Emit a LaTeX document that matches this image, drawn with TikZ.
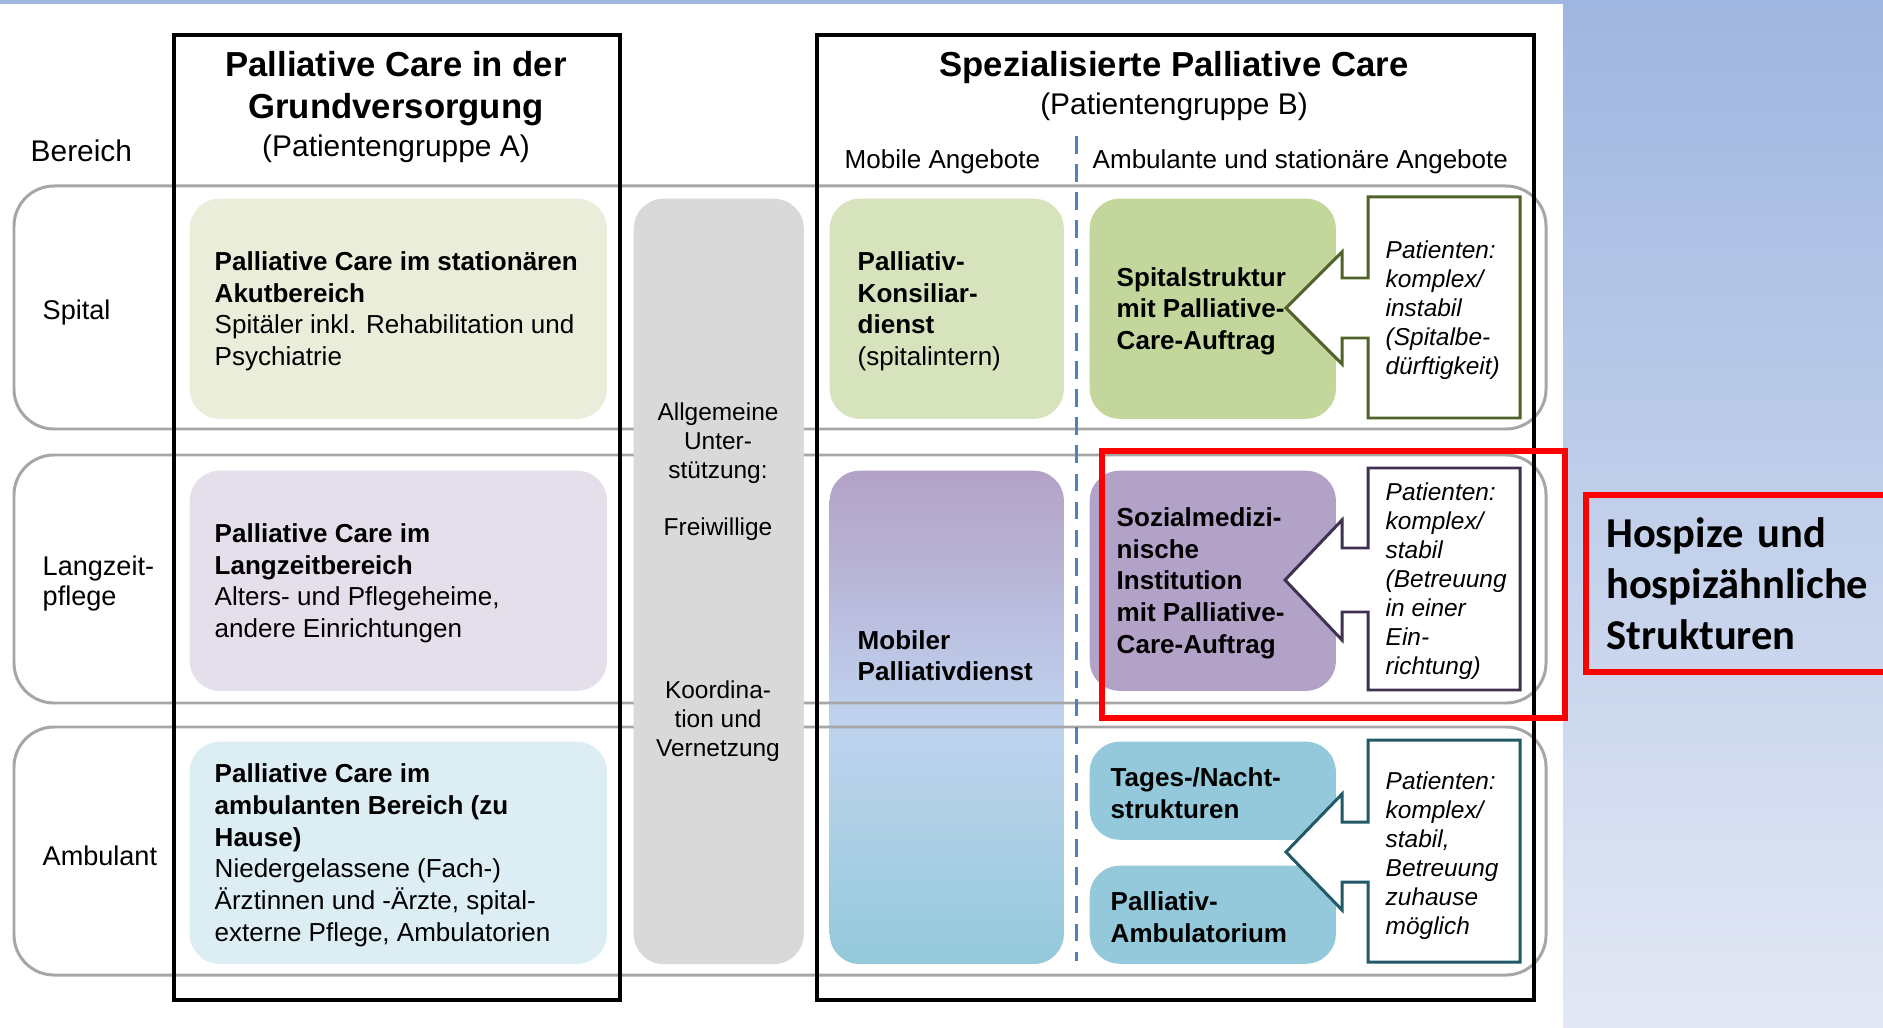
\documentclass[tikz,border=0pt]{standalone}
\usepackage{fontspec}
\setmainfont{Liberation Sans}
\newfontfamily\calibri{Carlito}

\definecolor{spitalpale}{HTML}{E9EDDA}
\definecolor{langpale}{HTML}{E4DFEA}
\definecolor{ambpale}{HTML}{DCEDF3}
\definecolor{supgray}{HTML}{D9D9D9}
\definecolor{konsilgreen}{HTML}{D7E3BC}
\definecolor{spitalgreen}{HTML}{C3D69B}
\definecolor{sozpurple}{HTML}{B3A2C7}
\definecolor{ambteal}{HTML}{93C9DA}
\definecolor{moblav}{HTML}{BCC3E3}
\definecolor{mobmid}{HTML}{BED2EE}
\definecolor{moblow}{HTML}{B4D1E8}
\definecolor{spitaldark}{HTML}{4F6228}
\definecolor{langdark}{HTML}{3F3151}
\definecolor{ambdark}{HTML}{215968}
\definecolor{dashblue}{HTML}{4F81BD}
\definecolor{bandgray}{HTML}{A6A6A6}
\definecolor{paneltop}{HTML}{9FB6E0}
\definecolor{panelbot}{HTML}{E3E8F4}

% purple at the top, teal at the bottom
\pgfdeclareverticalshading{mobshade}{100bp}{color(0bp)=(ambteal); color(25bp)=(ambteal);
  color(42.5bp)=(moblow); color(50bp)=(mobmid); color(57.5bp)=(moblav);
  color(75bp)=(sozpurple); color(100bp)=(sozpurple)}

\newcommand\hdsize{\fontsize{9.87pt}{11.95pt}\selectfont}
\newcommand\subsize{\fontsize{8.5pt}{10pt}\selectfont}
\newcommand\bodysize{\fontsize{7.4pt}{9pt}\selectfont}
\newcommand\rowsize{\fontsize{7.7pt}{8.5pt}\selectfont}
\newcommand\smallsize{\fontsize{6.95pt}{8.25pt}\selectfont}

\begin{document}
\begin{tikzpicture}[x=0.01cm, y=-0.01cm,
  band/.style={draw=bandgray, line width=0.85pt, rounded corners=0.4cm},
  column/.style={draw=black, line width=1pt},
  cell/.style={anchor=north west, rounded corners=0.3cm, inner sep=0pt},
  txt/.style={anchor=west, align=left, inner sep=0pt, font=\bodysize, yshift=-0.025cm},
  head/.style={align=center, inner sep=0pt, yshift=-0.04cm},
  note/.style={anchor=west, align=left, inner sep=0pt, font=\smallsize\itshape, yshift=-0.025cm},
  sup/.style={align=center, inner sep=0pt, font=\smallsize, yshift=-0.025cm},
  callout/.style={fill=white, line width=0.85pt},
  redline/.style={draw=red, line width=1.8pt}]
\clip (0,0) rectangle (1883,1028);
% background
\fill[white] (0,0) rectangle (1563,1028);
\fill[paneltop] (0,0) rectangle (1563,4);
\shade[top color=paneltop, bottom color=panelbot] (1563,0) rectangle (1883,1028);
% mobile service lies under the row lines
\node[cell, shading=mobshade, minimum width=2.34cm, minimum height=4.93cm] (mobil) at (829,470) {};
% rows
\draw[band] (14,186) rectangle (1546,429);
\draw[band] (14,455) rectangle (1546,703);
\draw[band] (14,727) rectangle (1546,975);
% columns
\draw[column] (174,35) rectangle (620,1000);
\draw[column] (817,35) rectangle (1534,1000);
% headers
\node[head, font=\hdsize\bfseries] (hdA) at (396,85) {Palliative Care in der\\Grundversorgung};
\node[head, font=\subsize] (subA) at (396,145) {(Patientengruppe A)};
\node[head, font=\hdsize\bfseries] (hdB) at (1174,64) {Spezialisierte Palliative Care};
\node[head, font=\subsize] (subB) at (1174,103) {(Patientengruppe B)};
\node[txt] (mobHead) at (844,159) {Mobile Angebote};
\node[txt] (ambHead) at (1092,159) {Ambulante und stationäre Angebote};
\draw[dashblue, line width=0.85pt, dash pattern=on 5pt off 3pt] (1076,136) -- (1076,961);
% row labels
\node[txt, font=\subsize] (bereich) at (30,148) {Bereich};
\node[txt, font=\rowsize] (rowSp) at (42,310) {Spital};
\node[txt, font=\rowsize] (rowLz) at (42,581) {Langzeit-\\pflege};
\node[txt, font=\rowsize] (rowAmb) at (42,853) {Ambulant};
% Grundversorgung
\node[cell, fill=spitalpale, minimum width=4.17cm, minimum height=2.2cm] (careSp) at (189,198) {};
\node[cell, fill=langpale, minimum width=4.17cm, minimum height=2.2cm] (careLz) at (189,470) {};
\node[cell, fill=ambpale, minimum width=4.17cm, minimum height=2.22cm] (careAmb) at (189,741) {};
\node[txt] (careSpTxt) at ([xshift=0.25cm]careSp.west) {\textbf{Palliative Care im stationären}\\\textbf{Akutbereich}\\Spitäler inkl. Rehabilitation und\\Psychiatrie};
\node[txt] (careLzTxt) at ([xshift=0.25cm]careLz.west) {\textbf{Palliative Care im}\\\textbf{Langzeitbereich}\\Alters- und Pflegeheime,\\andere Einrichtungen};
\node[txt] (careAmbTxt) at ([xshift=0.25cm]careAmb.west) {\textbf{Palliative Care im}\\\textbf{ambulanten Bereich (zu}\\\textbf{Hause)}\\Niedergelassene (Fach-)\\Ärztinnen und -Ärzte, spital-\\externe Pflege, Ambulatorien};
% support
\node[cell, fill=supgray, minimum width=1.7cm, minimum height=7.65cm] (support) at (633,198) {};
\node[sup] (supA) at (718,441) {Allgemeine\\Unter-\\stützung:};
\node[sup] (supB) at (718,527) {Freiwillige};
\node[sup] (supC) at (718,719) {Koordina-\\tion und\\Vernetzung};
% mobile
\node[cell, fill=konsilgreen, minimum width=2.34cm, minimum height=2.2cm] (konsil) at (829,198) {};
\node[txt] (konsilTxt) at ([xshift=0.28cm]konsil.west) {\textbf{Palliativ-}\\\textbf{Konsiliar-}\\\textbf{dienst}\\(spitalintern)};
\node[txt] (mobilTxt) at ([xshift=0.28cm, yshift=0.64cm]mobil.west) {\textbf{Mobiler}\\\textbf{Palliativdienst}};
% ambulant and stationary
\node[cell, fill=spitalgreen, minimum width=2.46cm, minimum height=2.2cm] (spistr) at (1089,198) {};
\node[cell, fill=sozpurple, minimum width=2.46cm, minimum height=2.2cm] (sozmed) at (1089,470) {};
\node[cell, fill=ambteal, minimum width=2.46cm, minimum height=0.98cm] (tages) at (1089,741) {};
\node[cell, fill=ambteal, minimum width=2.46cm, minimum height=0.98cm] (ambul) at (1089,865) {};
\draw[callout, draw=spitaldark] (1368,197) -- (1520,197) -- (1520,418) -- (1368,418) -- (1368,338) -- (1342,338) -- (1342,364) -- (1286,308) -- (1342,252) -- (1342,278) -- (1368,278) -- cycle;
\draw[callout, draw=langdark] (1368,468) -- (1520,468) -- (1520,690) -- (1368,690) -- (1368,612) -- (1342,612) -- (1342,640) -- (1285,580) -- (1342,520) -- (1342,548) -- (1368,548) -- cycle;
\draw[callout, draw=ambdark] (1368,740) -- (1520,740) -- (1520,962) -- (1368,962) -- (1368,882) -- (1342,882) -- (1342,910) -- (1286,852) -- (1342,794) -- (1342,822) -- (1368,822) -- cycle;
\node[txt] (spistrTxt) at ([xshift=0.27cm]spistr.west) {\textbf{Spitalstruktur}\\\textbf{mit Palliative-}\\\textbf{Care-Auftrag}};
\node[txt] (sozmedTxt) at ([xshift=0.27cm]sozmed.west) {\textbf{Sozialmedizi-}\\\textbf{nische}\\\textbf{Institution}\\\textbf{mit Palliative-}\\\textbf{Care-Auftrag}};
\node[txt] (tagesTxt) at ([xshift=0.21cm]tages.west) {\textbf{Tages-/Nacht-}\\\textbf{strukturen}};
\node[txt] (ambulTxt) at ([xshift=0.21cm]ambul.west) {\textbf{Palliativ-}\\\textbf{Ambulatorium}};
\node[note] (patSp) at (1385,308) {Patienten:\\komplex/\\instabil\\(Spitalbe-\\dürftigkeit)};
\node[note] (patLz) at (1385,579) {Patienten:\\komplex/\\stabil\\(Betreuung\\in einer\\Ein-\\richtung)};
\node[note] (patAmb) at (1385,853) {Patienten:\\komplex/\\stabil,\\Betreuung\\zuhause\\möglich};
% highlight
\draw[redline] (1102,451) rectangle (1565,718);
\node[anchor=north west, redline, minimum width=3.3cm, minimum height=1.77cm, text width=2.9cm, inner xsep=0.2cm, align=left, font=\calibri\bfseries\fontsize{12.1pt}{14.5pt}\selectfont] (hospiz) at (1583,492) {Hospize und\\hospizähnliche\\Strukturen};
\end{tikzpicture}
\end{document}
